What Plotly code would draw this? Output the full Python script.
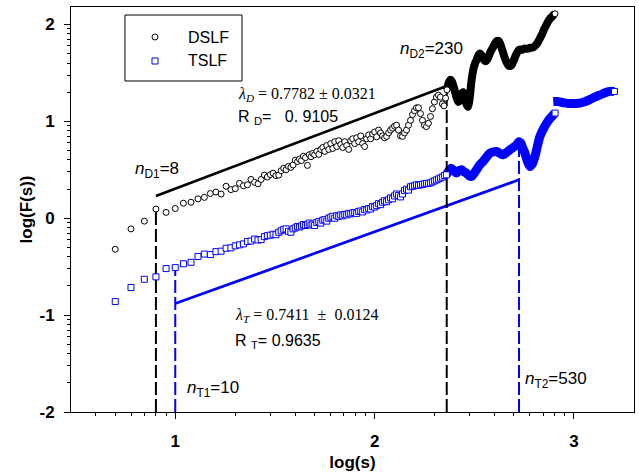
import plotly.graph_objects as go
import math

# ---------------- data (log10 units) ----------------
# DSLF: individual points (open circles)
dslf_logs = [0.699, 0.778, 0.845, 0.903, 0.954, 1.000, 1.041, 1.079, 1.114, 1.146,
             1.176, 1.204, 1.230, 1.255, 1.279, 1.301, 1.322, 1.342, 1.362, 1.380,
             1.398, 1.415, 1.431, 1.447, 1.462, 1.477, 1.491, 1.505, 1.519, 1.531,
             1.544, 1.556, 1.568, 1.580, 1.591, 1.602, 1.613, 1.623, 1.633, 1.643,
             1.653, 1.663, 1.672, 1.681, 1.690, 1.699,
             1.710, 1.720, 1.730, 1.740, 1.750, 1.760, 1.770, 1.780, 1.790, 1.800,
             1.810, 1.820, 1.830, 1.840, 1.850, 1.860, 1.870, 1.880, 1.890, 1.900,
             1.910, 1.920, 1.930, 1.940, 1.950, 1.960, 1.970, 1.980, 1.990, 2.000,
             2.010, 2.020, 2.030, 2.040, 2.050, 2.060, 2.070, 2.080, 2.090, 2.100,
             2.110, 2.120, 2.130, 2.140, 2.150, 2.160, 2.170, 2.180, 2.190, 2.200,
             2.210, 2.220, 2.230, 2.240, 2.250, 2.260, 2.270, 2.280, 2.290, 2.300,
             2.310, 2.320, 2.330, 2.340, 2.348, 2.356, 2.363]
dslf_logF = [-0.32, -0.11, -0.03, 0.095, 0.06, 0.10, 0.155, 0.165, 0.20, 0.215,
             0.255, 0.27, 0.25, 0.33, 0.295, 0.305, 0.36, 0.335, 0.345, 0.40,
             0.37, 0.355, 0.40, 0.445, 0.425, 0.45, 0.465, 0.44, 0.445, 0.49,
             0.515, 0.50, 0.535, 0.525, 0.55, 0.60, 0.585, 0.61, 0.595, 0.64,
             0.625, 0.545, 0.655, 0.635, 0.67, 0.655,
             0.69, 0.66, 0.71, 0.73, 0.69, 0.75, 0.71, 0.77, 0.72, 0.79,
             0.74, 0.80, 0.76, 0.73, 0.79, 0.75, 0.71, 0.80, 0.82, 0.77,
             0.83, 0.79, 0.85, 0.77, 0.74, 0.82, 0.86, 0.82, 0.87, 0.89,
             0.84, 0.91, 0.88, 0.85, 0.83, 0.845, 0.88, 0.91, 0.93, 0.95,
             0.96, 0.91, 0.85, 0.845, 0.88, 0.91, 0.96, 1.01, 1.07, 1.11,
             1.14, 1.14, 1.08, 1.01, 0.96, 0.945, 0.98, 1.05, 1.13, 1.20,
             1.25, 1.27, 1.25, 1.18, 1.16, 1.24, 1.325]
# DSLF: dense tail (points merge into a solid band)
dslf_band_logs = [2.363, 2.372, 2.380, 2.388, 2.396, 2.404, 2.412, 2.420, 2.428, 2.436,
                  2.444, 2.452, 2.460, 2.468, 2.474, 2.480, 2.486, 2.492, 2.498, 2.504,
                  2.511, 2.518, 2.526, 2.534, 2.542, 2.550, 2.558, 2.566, 2.574, 2.582,
                  2.590, 2.598, 2.606, 2.614, 2.622, 2.630, 2.638, 2.646, 2.654, 2.662,
                  2.670, 2.678, 2.686, 2.694, 2.702, 2.710, 2.718, 2.726, 2.734, 2.742,
                  2.750, 2.760, 2.770, 2.780, 2.790, 2.800, 2.810, 2.820, 2.830, 2.840,
                  2.850, 2.860, 2.870, 2.880, 2.890, 2.898, 2.905]
dslf_band_logF = [1.325, 1.40, 1.43, 1.41, 1.36, 1.30, 1.24, 1.20, 1.22, 1.28,
                  1.30, 1.25, 1.18, 1.15, 1.20, 1.30, 1.42, 1.50, 1.56, 1.60,
                  1.63, 1.67, 1.70, 1.69, 1.66, 1.63, 1.62, 1.64, 1.68, 1.72,
                  1.75, 1.78, 1.81, 1.83, 1.83, 1.80, 1.75, 1.70, 1.65, 1.61,
                  1.58, 1.57, 1.58, 1.61, 1.65, 1.69, 1.72, 1.74, 1.74, 1.74,
                  1.75, 1.75, 1.75, 1.76, 1.76, 1.77, 1.79, 1.82, 1.86, 1.90,
                  1.95, 1.99, 2.03, 2.06, 2.08, 2.10, 2.11]

# TSLF: individual points (open squares)
tslf_logs = [0.699, 0.778, 0.845, 0.903, 0.954, 1.000, 1.041, 1.079, 1.114, 1.146,
             1.176, 1.204, 1.230, 1.255, 1.279, 1.301, 1.322, 1.342, 1.362, 1.380,
             1.398, 1.415, 1.431, 1.447, 1.462, 1.477, 1.491, 1.505, 1.519, 1.531,
             1.544, 1.556, 1.568, 1.580, 1.591, 1.602, 1.613, 1.623, 1.633, 1.643,
             1.653, 1.663, 1.672, 1.681, 1.690, 1.699,
             1.710, 1.720, 1.730, 1.740, 1.750, 1.760, 1.770, 1.780, 1.790, 1.800,
             1.810, 1.820, 1.830, 1.840, 1.850, 1.860, 1.870, 1.880, 1.890, 1.900,
             1.910, 1.920, 1.930, 1.940, 1.950, 1.960, 1.970, 1.980, 1.990, 2.000,
             2.010, 2.020, 2.030, 2.040, 2.050, 2.060, 2.070, 2.080, 2.090, 2.100,
             2.110, 2.120, 2.130, 2.140, 2.150, 2.160, 2.170, 2.180, 2.190, 2.200,
             2.210, 2.220, 2.230, 2.240, 2.250, 2.260, 2.270, 2.280, 2.290, 2.300,
             2.310, 2.320, 2.330, 2.340, 2.350, 2.360]
tslf_logF = [-0.86, -0.715, -0.63, -0.605, -0.52, -0.51, -0.47, -0.455, -0.395, -0.37,
             -0.375, -0.345, -0.34, -0.31, -0.305, -0.285, -0.275, -0.265, -0.24, -0.235,
             -0.215, -0.225, -0.22, -0.19, -0.18, -0.175, -0.165, -0.17, -0.145, -0.13,
             -0.115, -0.11, -0.135, -0.145, -0.11, -0.10, -0.085, -0.09, -0.08, -0.065,
             -0.075, -0.065, -0.05, -0.07, -0.06, -0.075,
             -0.045, -0.035, -0.05, -0.02, -0.015, -0.03, 0.0, 0.01, 0.02, 0.0,
             0.025, 0.02, 0.035, 0.025, 0.04, 0.035, 0.05, 0.045, 0.055, 0.06,
             0.05, 0.07, 0.075, 0.065, 0.09, 0.085, 0.10, 0.095, 0.12, 0.115,
             0.13, 0.15, 0.14, 0.165, 0.18, 0.17, 0.19, 0.21, 0.20, 0.23,
             0.25, 0.235, 0.22, 0.25, 0.285, 0.30, 0.29, 0.325, 0.33, 0.335,
             0.345, 0.34, 0.345, 0.35, 0.355, 0.36, 0.36, 0.365, 0.375, 0.385,
             0.395, 0.405, 0.415, 0.425, 0.44, 0.448]
# TSLF dense tail, first piece
tslf_band1_logs = [2.360, 2.372, 2.385, 2.397, 2.410, 2.423, 2.436, 2.448, 2.460, 2.473,
                   2.486, 2.498, 2.511, 2.527, 2.544, 2.561, 2.578, 2.595, 2.611, 2.628,
                   2.645, 2.662, 2.678, 2.695, 2.712, 2.724, 2.732, 2.742, 2.754, 2.766,
                   2.779, 2.791, 2.804, 2.816, 2.829, 2.846, 2.863, 2.880, 2.895, 2.905]
tslf_band1_logF = [0.448, 0.49, 0.517, 0.49, 0.466, 0.49, 0.50, 0.48, 0.466, 0.44,
                   0.431, 0.46, 0.50, 0.55, 0.586, 0.63, 0.672, 0.685, 0.689, 0.67,
                   0.655, 0.68, 0.706, 0.73, 0.758, 0.79, 0.78, 0.73, 0.672, 0.59,
                   0.534, 0.56, 0.637, 0.74, 0.843, 0.92, 0.981, 1.03, 1.065, 1.085]
# TSLF dense tail, second piece
tslf_band2_logs = [2.896, 2.915, 2.930, 2.950, 2.970, 2.990, 3.010, 3.030, 3.050, 3.070,
                   3.090, 3.110, 3.131, 3.150, 3.173, 3.190, 3.203]
tslf_band2_logF = [1.204, 1.205, 1.20, 1.19, 1.185, 1.185, 1.185, 1.188, 1.20, 1.215,
                   1.235, 1.255, 1.273, 1.29, 1.307, 1.31, 1.307]

# crossover points and fits
n_D = [8, 230]
n_D_top = [0.095, 1.325]
n_T = [10, 530]
n_T_top = [-0.51, 0.79]
lam_D, fitD_y0 = 0.7782, 0.23     # fit starts at log(n_D1)
lam_T, fitT_y0 = 0.7411, -0.881   # fit starts at log(n_T1)

# axis ticks
x_tickvals = [1, 2, 3]
x_ticktext = ["1", "2", "3"]
y_tickvals = [-2, -1, 0, 1, 2]
y_ticktext = ["-2", "-1", "0", "1", "2"]

series_names = ["DSLF", "TSLF"]

BLACK = "#000000"
BLUE = "#0000FF"
ARIAL = "Arial, Liberation Sans, sans-serif"
TIMES = "Times New Roman, Liberation Serif, serif"

fig = go.Figure()

# dense bands (drawn first)
fig.add_trace(go.Scatter(x=dslf_band_logs, y=dslf_band_logF, mode="lines",
                         line=dict(color=BLACK, width=8, shape="spline", smoothing=0.8),
                         showlegend=False, hoverinfo="skip"))
fig.add_trace(go.Scatter(x=tslf_band1_logs, y=tslf_band1_logF, mode="lines",
                         line=dict(color=BLUE, width=9, shape="spline", smoothing=0.8),
                         showlegend=False, hoverinfo="skip"))
fig.add_trace(go.Scatter(x=tslf_band2_logs, y=tslf_band2_logF, mode="lines",
                         line=dict(color=BLUE, width=9, shape="spline", smoothing=0.8),
                         showlegend=False, hoverinfo="skip"))

# fitted lines
xD = [math.log10(n_D[0]), math.log10(n_D[1])]
yD = [fitD_y0, fitD_y0 + lam_D * (xD[1] - xD[0])]
xT = [math.log10(n_T[0]), math.log10(n_T[1])]
yT = [fitT_y0, fitT_y0 + lam_T * (xT[1] - xT[0])]
fig.add_trace(go.Scatter(x=xD, y=yD, mode="lines", line=dict(color=BLACK, width=2.7),
                         showlegend=False, hoverinfo="skip"))
fig.add_trace(go.Scatter(x=xT, y=yT, mode="lines", line=dict(color=BLUE, width=2.7),
                         showlegend=False, hoverinfo="skip"))

# vertical dashed lines
for n, top in zip(n_D, n_D_top):
    fig.add_trace(go.Scatter(x=[math.log10(n)] * 2, y=[-2, top], mode="lines",
                             line=dict(color=BLACK, width=2, dash="13px,4px"),
                             showlegend=False, hoverinfo="skip"))
for n, top in zip(n_T, n_T_top):
    fig.add_trace(go.Scatter(x=[math.log10(n)] * 2, y=[-2, top], mode="lines",
                             line=dict(color=BLUE, width=2, dash="13px,4px"),
                             showlegend=False, hoverinfo="skip"))

# points
fig.add_trace(go.Scatter(x=dslf_logs, y=dslf_logF, mode="markers", name=series_names[0],
                         showlegend=False,
                         marker=dict(symbol="circle", size=6, color="white",
                                     line=dict(color=BLACK, width=1))))
fig.add_trace(go.Scatter(x=tslf_logs, y=tslf_logF, mode="markers", name=series_names[1],
                         showlegend=False,
                         marker=dict(symbol="square", size=6, color="white",
                                     line=dict(color=BLUE, width=1))))
# end points of the dense bands
fig.add_trace(go.Scatter(x=[dslf_band_logs[-1]], y=[dslf_band_logF[-1]], mode="markers",
                         marker=dict(symbol="circle", size=6, color="white",
                                     line=dict(color=BLACK, width=1)),
                         showlegend=False, hoverinfo="skip"))
fig.add_trace(go.Scatter(x=[tslf_band1_logs[-1], tslf_band2_logs[-1]],
                         y=[tslf_band1_logF[-1], tslf_band2_logF[-1]], mode="markers",
                         marker=dict(symbol="square", size=6, color="white",
                                     line=dict(color=BLUE, width=1)),
                         showlegend=False, hoverinfo="skip"))

NB = "\u00a0"
ann = [
    dict(text="<i>n</i><sub>D1</sub>=8", x=0.907, y=0.50),
    dict(text="<i>n</i><sub>D2</sub>=230", x=2.286, y=1.737),
    dict(text="<i>n</i><sub>T1</sub>=10", x=1.191, y=-1.765),
    dict(text="<i>n</i><sub>T2</sub>=530", x=2.91, y=-1.67),
]
for a in ann:
    fig.add_annotation(x=a["x"], y=a["y"], text=a["text"], showarrow=False,
                       xanchor="center", yanchor="middle",
                       font=dict(family=ARIAL, size=17, color=BLACK))

left_txt = [
    dict(text="<i>λ<sub>D</sub></i>" + NB + "=" + NB + "0.7782" + NB + "±" + NB + "0.0321",
         x=1.307, y=1.273, fam=TIMES),
    dict(text="R" + NB + "<sub>D</sub>=" + NB + NB + NB + "0." + NB + "9105",
         x=1.307, y=1.036, fam=ARIAL),
    dict(text="<i>λ<sub>T</sub></i>" + NB + "=" + NB + "0.7411" + NB + NB + "±" + NB + NB + "0.0124",
         x=1.291, y=-1.005, fam=TIMES),
    dict(text="R" + NB + "<sub>T</sub>=" + NB + "0.9635", x=1.291, y=-1.273, fam=ARIAL),
]
for a in left_txt:
    fig.add_annotation(x=a["x"], y=a["y"], text=a["text"], showarrow=False,
                       xanchor="left", yanchor="middle",
                       font=dict(family=a["fam"], size=16, color=BLACK))

# legend box (drawn by hand to match the original spacing)
fig.add_shape(type="rect", xref="paper", yref="paper", x0=0.0959, x1=0.3037, y0=0.8173, y1=0.9802,
              line=dict(color=BLACK, width=1), fillcolor="white", layer="above")
leg_rows = [(0.9259, "circle", BLACK), (0.8667, "square", BLUE)]
for (ly, sym, col), name in zip(leg_rows, series_names):
    fig.add_shape(type=sym if sym == "circle" else "rect", xref="paper", yref="paper",
                  xsizemode="pixel", ysizemode="pixel", xanchor=0.1492, yanchor=ly,
                  x0=-3, x1=3, y0=-3, y1=3, line=dict(color=col, width=1),
                  fillcolor="white", layer="above")
    fig.add_annotation(xref="paper", yref="paper", x=0.2043, y=ly, text=name, showarrow=False,
                       xanchor="left", yanchor="middle",
                       font=dict(family=ARIAL, size=16, color=BLACK))

x_minor = [math.log10(k * 10 ** e) for e in (0, 1, 2) for k in range(2, 10)
           if 0.48 < math.log10(k * 10 ** e) < 3.3]
y_minor = [math.log10(k * 10.0 ** e) for e in (-2, -1, 0, 1) for k in range(2, 10)]

fig.update_layout(
    width=639, height=476,
    margin=dict(l=71, r=5, t=7, b=64),
    plot_bgcolor="white", paper_bgcolor="white",
    font=dict(family=ARIAL, color=BLACK),
    showlegend=False,
    xaxis=dict(range=[math.log10(3), math.log10(2000)], showgrid=False, zeroline=False,
               showline=True, linecolor=BLACK, linewidth=1, mirror=True,
               ticks="outside", ticklen=6, tickcolor=BLACK, tickwidth=1,
               tickmode="array", tickvals=x_tickvals, ticktext=x_ticktext,
               tickfont=dict(family=ARIAL, size=17, weight="bold"),
               ticklabelstandoff=8,
               minor=dict(tickmode="array", tickvals=x_minor, ticks="outside",
                          ticklen=3, tickcolor=BLACK, tickwidth=1),
               title=dict(text="log(s)", font=dict(family=ARIAL, size=17, weight="bold"),
                          standoff=5)),
    yaxis=dict(range=[-2, 2.18], showgrid=False, zeroline=False,
               showline=True, linecolor=BLACK, linewidth=1, mirror=True,
               ticks="outside", ticklen=6, tickcolor=BLACK, tickwidth=1,
               tickmode="array", tickvals=y_tickvals, ticktext=y_ticktext,
               tickfont=dict(family=ARIAL, size=17, weight="bold"),
               ticklabelstandoff=6,
               minor=dict(tickmode="array", tickvals=y_minor, ticks="outside",
                          ticklen=3, tickcolor=BLACK, tickwidth=1),
               title=dict(text="log(F(s))", font=dict(family=ARIAL, size=17, weight="bold"),
                          standoff=2)),
)

fig.write_html("out.html")
